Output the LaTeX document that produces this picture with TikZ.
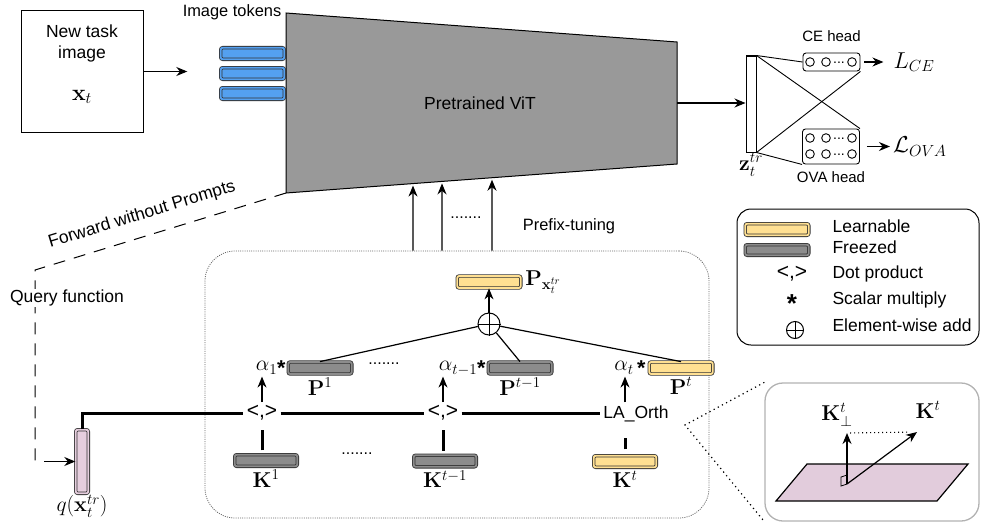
\RequirePackage{fix-cm}
\documentclass[tikz,border=0pt]{standalone}
\usepackage{amsmath}
\usepackage{amssymb}
\usepackage[no-math]{fontspec}
\setmainfont{Liberation Sans}
\usetikzlibrary{positioning}
\usetikzlibrary{arrows.meta}
\usetikzlibrary{calc}
\definecolor{vitgray}{RGB}{153,153,153}
\definecolor{frozen}{RGB}{140,140,140}
\definecolor{learn}{RGB}{255,224,146}
\definecolor{token}{RGB}{84,160,240}
\definecolor{query}{RGB}{230,206,222}
\definecolor{plane}{RGB}{226,204,220}

\begin{document}
\begin{tikzpicture}[x=1pt, y=-1pt, node distance=2pt, >={Stealth[length=11pt,width=9pt]},
font=\fontsize{17.5}{21}\selectfont,
bar/.style={draw=black!80, double=#1, double distance=1.8pt, fill=#1, line width=0.8pt, rounded corners=2pt, inner sep=0pt, minimum width=63.6pt, minimum height=12pt},
vbar/.style={bar=#1, minimum width=12.6pt, minimum height=63.6pt},
lab/.style={font=\fontsize{21.5}{25}\selectfont, inner sep=1pt},
sim/.style={font=\fontsize{21}{24}\selectfont},
head/.style={draw, rounded corners=3pt, line width=0.9pt, minimum width=57pt, inner sep=0pt},
thickline/.style={line width=3pt},
link/.style={line width=1.2pt}]

\useasboundingbox (0,0) rectangle (981,527);

% input image
\node [draw, line width=1pt, minimum width=122pt, minimum height=121pt] (img) at (82,71.5) {};
\node [align=center] (imgtxt) at (82,43) {New task\\image};
\node [lab, font=\fontsize{23}{26}\selectfont] (xt) at (82,97) {$\mathbf{x}_t$};

% pretrained ViT
\coordinate (vit-tl) at (286,13);
\coordinate (vit-tr) at (677,42);
\coordinate (vit-br) at (677,164);
\coordinate (vit-bl) at (286,193);
\draw [fill=vitgray, line width=1pt] (vit-tl) -- (vit-tr) -- (vit-br) -- (vit-bl) -- cycle;
\node (vit) at (480,103) {Pretrained ViT};
\coordinate (vit-out) at ($(vit-tr)!0.5!(vit-br)$);

% image tokens
\foreach \i/\y in {1/53.5, 2/73.5, 3/93.5}
  \node [bar=token, minimum height=11.6pt] (tok\i) at (252.5,\y) {};
\node [font=\fontsize{16.4}{20}\selectfont] (toklab) at (232,12) {Image tokens};
\draw [->, link, shorten >=33pt] (img.east) -- (img.east -| tok2.west);

% classifier heads
\node [draw, line width=1pt, fill=white, minimum width=10pt, minimum height=96pt, inner sep=0pt] (z) at (751,104) {};
\node [lab, below = 0pt of z] (zlab) {$\mathbf{z}_t^{tr}$};
\draw [->, link] (vit-out) -- (vit-out -| z.west);

\node [head, minimum height=18pt] (ce) at (831.5,62) {};
\node [head, minimum height=35pt] (ova) at (831,146.5) {};
\foreach \cy in {62,138,154} {
  \foreach \cx in {810,826,852}
    \draw [line width=0.9pt] (\cx,\cy) circle (4.3pt);
  \node [font=\fontsize{14}{14}\selectfont, inner sep=0pt] (hd\cy) at (839,\cy+1) {...};
}
\node [font=\fontsize{15}{18}\selectfont, above = 7pt of ce] (celab) {CE head};
\node [font=\fontsize{15}{18}\selectfont, below = 4pt of ova] (ovalab) {OVA head};
\draw [line width=0.9pt] (z.north east) -- (ce.west);
\draw [line width=0.9pt] (z.north east) -- (ova.north east);
\draw [line width=0.9pt] (z.south east) -- (ce.south east);
\draw [line width=0.9pt] (z.south east) -- (ova.south west);

\node [lab, font=\fontsize{23}{26}\selectfont, right = 32pt of ce] (lce) {$L_{CE}$};
\node [lab, font=\fontsize{23}{26}\selectfont, right = 32pt of ova] (lova) {$\mathcal{L}_{OVA}$};
\draw [->, link, shorten <=4pt, shorten >=9pt] (ce.east) -- (lce.west);
\draw [->, link, shorten <=7pt, shorten >=2pt] (ova.east) -- (lova.west);

% prompt pool
\node [draw=black!60, dash pattern=on 1pt off 1.2pt, line width=0.8pt, rounded corners=30pt, minimum width=504pt, minimum height=267pt] (pool) at (457,384.5) {};
\foreach \px in {413,442,492}
  \draw [->, link, shorten >=2pt] (pool.north -| \px,0) -- ($(vit-bl)!{(\px-286)/391}!(vit-br)$);
\node [font=\fontsize{16}{16}\selectfont] (pfdots) at (466,218) {.......};
\node [font=\fontsize{16.4}{20}\selectfont] (pflab) at (569,226) {Prefix-tuning};

% keys
\node [bar=frozen, minimum width=62.6pt, minimum height=11.6pt] (k1) at (266,460.5) {};
\node [bar=frozen, minimum width=62.6pt, minimum height=11.6pt] (kt1) at (445,461) {};
\node [bar=learn, minimum width=62.6pt, minimum height=11.6pt] (kt) at (625,461.5) {};
\node [lab, below = of k1] (k1lab) {$\mathbf{K}^1$};
\node [lab, below = of kt1] (kt1lab) {$\mathbf{K}^{t-1}$};
\node [lab, below = of kt] (ktlab) {$\mathbf{K}^t$};
\node [font=\fontsize{16}{16}\selectfont] (kdots) at (357,454) {.......};

% prompts
\node [bar=frozen] (p1) at (320,368) {};
\node [bar=frozen] (pt1) at (520,368) {};
\node [bar=learn] (pt) at (681,368) {};
\node [lab, below = of p1] (p1lab) {$\mathbf{P}^1$};
\node [lab, below = of pt1] (pt1lab) {$\mathbf{P}^{t-1}$};
\node [lab, below = of pt] (ptlab) {$\mathbf{P}^t$};
\node [font=\fontsize{16}{16}\selectfont] (pdots) at (384,364) {.......};
\node [lab, left = 1pt of p1] (a1) {$\alpha_1$\raisebox{-0.4ex}{\textbf{*}}};
\node [lab, left = 1pt of pt1] (at1) {$\alpha_{t-1}$\raisebox{-0.4ex}{\textbf{*}}};
\node [lab, left = 2pt of pt] (at) {$\alpha_t$\,\raisebox{-0.4ex}{\textbf{*}}};

% similarity
\node [sim] (dot1) at (262,413) {<,>};
\node [sim] (dot2) at (443,413) {<,>};
\node (orth) at (636,414) {LA\_Orth};
\draw [->, link] (dot1.north) -- (dot1.north |- a1.south);
\draw [->, link] (dot2.north) -- (dot2.north |- at1.south);
\draw [->, link] (kt.north |- orth.north) -- (kt.north |- at.south);
\draw [thickline, shorten <=4pt, shorten >=6pt] (dot1.south |- k1.north) -- (dot1.south);
\draw [thickline, shorten <=4pt, shorten >=6pt] (dot2.south |- kt1.north) -- (dot2.south);
\draw [thickline, shorten <=6pt, shorten >=12pt] (kt.north) -- (kt.north |- orth.south);

% query
\node [vbar=query] (q) at (82,461.5) {};
\node [lab, below = 0pt of q] (qlab) {$q(\mathbf{x}_t^{tr})$};
\draw [thickline] (q.north) |- (dot1.west);
\draw [thickline] (dot1.east) -- (dot2.west);
\draw [thickline] (dot2.east) -- (dot2.east -| orth.west);

% sum of prompts
\node [draw, circle, minimum size=22pt, inner sep=0pt, line width=1pt] (plus) at (489,324) {};
\draw [line width=1pt] (plus.north) -- (plus.south) (plus.west) -- (plus.east);
\node [bar=learn] (px) at (489,282) {};
\node [lab, right = 3pt of px] (pxlab) {$\mathbf{P}_{\mathbf{x}_t^{tr}}$};
\draw [->, link] (plus.north) -- (px.south);
\draw [link] (plus) -- (p1.north);
\draw [link] (plus) -- (pt1.north);
\draw [link] (plus) -- (pt.north);

% forward without prompts
\coordinate (fwd) at (35,270);
\draw [dash pattern=on 12pt off 9pt, line width=1pt] (vit-bl) -- (fwd) -- (fwd |- q.west);
\draw [->, link] ([xshift=-31pt]q.west) -- (q.west);
\node [rotate=17] (fwdlab) at (142,215) {Forward without Prompts};
\node [fill=white, inner sep=1pt] (qflab) at (67,298) {Query function};

% legend
\node [draw, line width=1pt, rounded corners=14pt, minimum width=242pt, minimum height=136pt] (legend) at (858,277) {};
\node [bar=learn, minimum height=11.6pt] (leglearn) at (777,229.5) {};
\node [bar=frozen, minimum height=10.6pt] (legfrozen) at (777,250) {};
\node [sim] (legdot) at (792,274) {<,>};
\node [font=\fontsize{26}{26}\selectfont] (legstar) at (792,304) {\textbf{*}};
\node [draw, circle, minimum size=17pt, inner sep=0pt, line width=1pt] (legplus) at (795,330) {};
\draw [line width=1pt] (legplus.north) -- (legplus.south) (legplus.west) -- (legplus.east);
\node [anchor=west] (txlearn) at (829,226) {Learnable};
\node [anchor=west] (txfrozen) at (829,247) {Freezed};
\node [anchor=west] (txdot) at (829,274) {Dot product};
\node [anchor=west] (txstar) at (829,300) {Scalar multiply};
\node [anchor=west] (txplus) at (829,325) {Element-wise add};

% orthogonal component
\node [draw=black!30, line width=1.3pt, rounded corners=18pt, minimum width=214pt, minimum height=138pt] (panel) at (872,452) {};
\coordinate (lens) at (685,425);
\draw [dash pattern=on 1.2pt off 3.5pt, line width=1.2pt] (panel.north west) -- (lens) -- (panel.south west);
\draw [fill=plane, line width=1.2pt] (776,501) -- (807,464) -- (968,464) -- (937,501) -- cycle;
\coordinate (o) at (847,484);
\coordinate (kperp) at (847,433);
\coordinate (kvec) at (917,432);
\draw [line width=0.8pt] (847,475) -- (841,477) -- (841,486) -- (847,484);
\draw [->, link] (o) -- (kperp);
\draw [->, link] (o) -- (kvec);
\draw [dash pattern=on 1pt off 3pt, line width=1.1pt, shorten <=3pt, shorten >=10pt] (kperp) -- (kvec);
\node [lab] (kperplab) at (837,415) {$\mathbf{K}_{\perp}^t$};
\node [lab] (kveclab) at (928,410) {$\mathbf{K}^t$};

\end{tikzpicture}
\end{document}
